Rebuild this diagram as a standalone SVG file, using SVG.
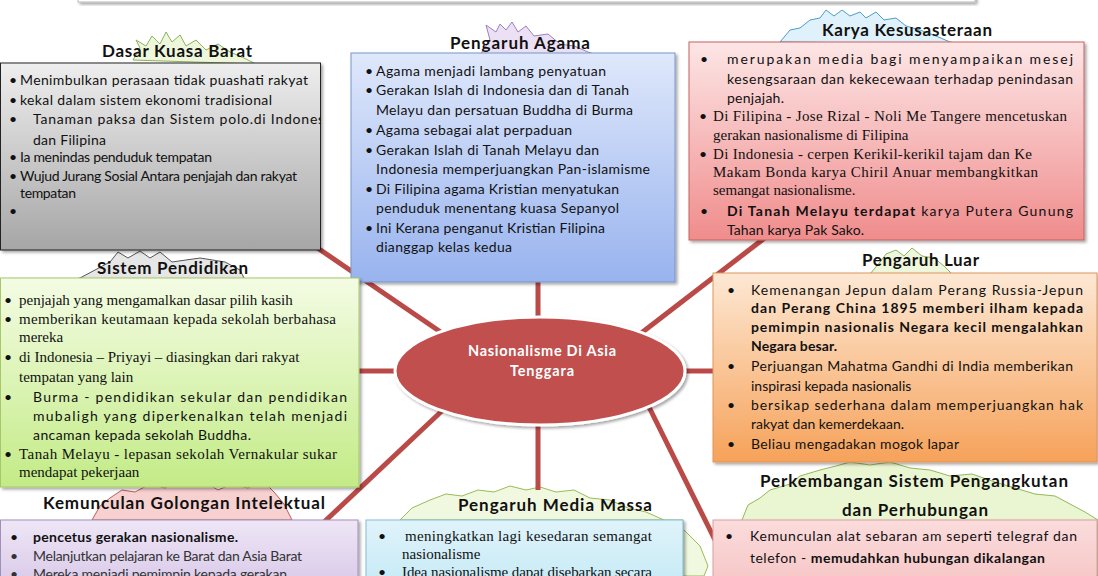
<svg xmlns="http://www.w3.org/2000/svg" width="1098" height="576" viewBox="0 0 1098 576">
<defs>
<style>
.t{font-family:Lato,"Open Sans",sans-serif;font-weight:bold;font-size:17px;fill:#111}
.s{font-family:Lato,"Open Sans",sans-serif;font-size:14px;fill:#111}
.r{font-family:"Liberation Serif","Times New Roman",serif;font-size:15px;fill:#111}
.bu{font-family:Lato,"Open Sans",sans-serif;font-size:14px;fill:#111}
.b{font-weight:bold}
.con{stroke:#b94a48;stroke-width:5;fill:none;stroke-linecap:butt}
.map{stroke-width:1;stroke-linejoin:round}
</style>
<filter id="sh" x="-5%" y="-5%" width="115%" height="120%"><feDropShadow dx="2" dy="2" stdDeviation="1.5" flood-color="#000" flood-opacity="0.35"/></filter>
<linearGradient id="g1" x1="0" y1="0" x2="0" y2="1"><stop offset="0" stop-color="#eeeeee"/><stop offset="1" stop-color="#a6a6a6"/></linearGradient>
<linearGradient id="g2" x1="0" y1="0" x2="0" y2="1"><stop offset="0" stop-color="#dfe8fb"/><stop offset="1" stop-color="#98b3ee"/></linearGradient>
<linearGradient id="g3" x1="0" y1="0" x2="0" y2="1"><stop offset="0" stop-color="#fde6e6"/><stop offset="1" stop-color="#f08c8c"/></linearGradient>
<linearGradient id="g4" x1="0" y1="0" x2="0" y2="1"><stop offset="0" stop-color="#f4fce4"/><stop offset="1" stop-color="#c3eb86"/></linearGradient>
<linearGradient id="g5" x1="0" y1="0" x2="0" y2="1"><stop offset="0" stop-color="#fde8d4"/><stop offset="1" stop-color="#f6a25a"/></linearGradient>
<linearGradient id="g6" x1="0" y1="0" x2="0" y2="1"><stop offset="0" stop-color="#eee6f6"/><stop offset="1" stop-color="#d8c8e8"/></linearGradient>
<linearGradient id="g8" x1="0" y1="0" x2="0" y2="1"><stop offset="0" stop-color="#e0f3fa"/><stop offset="1" stop-color="#c4eaf6"/></linearGradient>
<linearGradient id="g9" x1="0" y1="0" x2="0" y2="1"><stop offset="0" stop-color="#fbdcdc"/><stop offset="1" stop-color="#f6c4c4"/></linearGradient>
<clipPath id="cp1"><rect x="0" y="63" width="321" height="187"/></clipPath>
</defs>
<rect x="0" y="0" width="1098" height="576" fill="#ffffff"/>

<g id="top-box"><rect x="78" y="-20" width="897" height="22" fill="#ffffff" stroke="#bbbbbb" filter="url(#sh)"/></g>

<g id="maps">
<polygon class="map" fill="#eef7dc" stroke="#8db25a" points="133,60 140,48 136,40 146,46 152,36 160,44 166,32 172,42 180,35 186,46 196,40 206,50 218,44 230,52 244,58 256,64"/>
<polygon class="map" fill="#e6e6e6" stroke="#555555" points="62,282 80,278 95,270 110,262 118,252 128,258 140,251 150,258 160,252 172,262 200,258 225,262 240,270 246,282"/>
<polygon class="map" fill="#ece0f5" stroke="#9b7fc0" points="480,55 490,40 486,25 496,32 500,24 506,30 512,22 518,32 526,26 534,36 548,34 560,44 574,46 588,52 600,56"/>
<polygon class="map" fill="#dff1fa" stroke="#4d9dc8" points="780,42 790,30 800,28 810,20 820,18 826,10 834,16 842,10 850,16 860,12 866,18 876,12 884,20 896,18 906,26 920,30 936,36 950,42 962,44"/>
<polygon class="map" fill="#eef7dc" stroke="#8db25a" points="870,274 880,262 886,254 896,250 904,256 912,248 922,256 934,258 944,266 952,274"/>
<polygon class="map" fill="#eaf5d2" stroke="#94b85a" points="722,545 730,528 742,520 748,505 760,498 770,490 790,484 800,476 820,470 836,466 850,462 870,465 890,462 910,468 930,470 950,476 972,474 995,482 1015,488 1035,494 1055,496 1070,504 1085,512 1098,520 1098,576 722,576"/>
<polygon class="map" fill="#f7d0d0" stroke="#c45a5a" points="92,520 100,506 110,498 122,490 135,492 150,484 165,488 178,480 192,486 205,482 218,490 232,484 248,488 262,480 274,492 284,504 292,520"/>
<polygon class="map" fill="#f1f8e0" stroke="#9bbb55" points="400,520 412,508 430,500 446,494 462,496 478,490 494,492 510,486 526,490 540,487 556,492 574,490 590,498 610,500 628,508 646,512 664,520 684,530 700,546 708,566 704,576 683,576 683,520"/>
</g>

<g id="connectors">
<line class="con" x1="300" y1="236" x2="445" y2="335"/>
<line class="con" x1="538" y1="278" x2="538" y2="322"/>
<line class="con" x1="775" y1="230" x2="640" y2="334"/>
<line class="con" x1="355" y1="371" x2="402" y2="371"/>
<line class="con" x1="680" y1="371" x2="716" y2="371"/>
<line class="con" x1="445" y1="408" x2="322" y2="524"/>
<line class="con" x1="538" y1="420" x2="538" y2="490"/>
<line class="con" x1="648" y1="405" x2="716" y2="542"/>
</g>

<g id="center">
<ellipse cx="540" cy="371" rx="145" ry="54" fill="#c0504d" stroke="#ffffff" stroke-width="3" filter="url(#sh)"/>
<text x="542" y="356" text-anchor="middle" font-family="Lato,'Open Sans',sans-serif" font-weight="bold" font-size="14.5" fill="#ffffff" textLength="148">Nasionalisme Di Asia</text>
<text x="542" y="376" text-anchor="middle" font-family="Lato,'Open Sans',sans-serif" font-weight="bold" font-size="14.5" fill="#ffffff" textLength="64">Tenggara</text>
</g>

<g id="dasar-kuasa-barat">
<text class="t" x="102" y="57" textLength="150">Dasar Kuasa Barat</text>
<rect x="0.5" y="63" width="320" height="187" fill="url(#g1)" stroke="#222222" filter="url(#sh)"/>
<g clip-path="url(#cp1)">
<g class="s" font-size="13.5">
<text x="9" y="85">•</text><text x="20" y="85" textLength="288">Menimbulkan perasaan tidak puashati rakyat</text>
<text x="9" y="105">•</text><text x="20" y="105" textLength="252">kekal dalam sistem ekonomi tradisional</text>
</g>
<text class="s" x="9" y="124">•</text>
<text class="s" font-size="16" x="33" y="124" textLength="303">Tanaman paksa dan Sistem polo.di Indonesia</text>
<text class="s" font-size="16" x="33" y="145" textLength="73">dan Filipina</text>
<g class="s" font-size="12.5">
<text x="9" y="162">•</text><text x="20" y="162" textLength="192">Ia menindas penduduk tempatan</text>
<text x="9" y="181">•</text><text x="20" y="181" textLength="277">Wujud Jurang Sosial Antara penjajah dan rakyat</text>
<text x="20" y="198" textLength="56">tempatan</text>
<text x="9" y="216">•</text>
</g>
</g>
</g>

<g id="pengaruh-agama">
<text class="t" x="450" y="49" textLength="140">Pengaruh Agama</text>
<rect x="351" y="53" width="324" height="229" fill="url(#g2)" stroke="#7a95c8" filter="url(#sh)"/>
<g class="s" font-size="14.5">
<text x="365" y="76">•</text><text x="376" y="76" textLength="230">Agama menjadi lambang penyatuan</text>
<text x="365" y="95">•</text><text x="376" y="95" textLength="253">Gerakan Islah di Indonesia dan di Tanah</text>
<text x="376" y="115" textLength="257">Melayu dan persatuan Buddha di Burma</text>
<text x="365" y="135">•</text><text x="376" y="135" textLength="196">Agama sebagai alat perpaduan</text>
<text x="365" y="155">•</text><text x="376" y="155" textLength="223">Gerakan Islah di Tanah Melayu dan</text>
<text x="376" y="174" textLength="274">Indonesia memperjuangkan Pan-islamisme</text>
<text x="365" y="194">•</text><text x="376" y="194" textLength="243">Di Filipina agama Kristian menyatukan</text>
<text x="376" y="213" textLength="243">penduduk menentang kuasa Sepanyol</text>
<text x="365" y="233">•</text><text x="376" y="233" textLength="229">Ini Kerana penganut Kristian Filipina</text>
<text x="376" y="252" textLength="136">dianggap kelas kedua</text>
</g>
</g>

<g id="karya-kesusasteraan">
<text class="t" x="822" y="36" textLength="170">Karya Kesusasteraan</text>
<rect x="689" y="42" width="395" height="198" fill="url(#g3)" stroke="#c86060" filter="url(#sh)"/>
<g class="s" font-size="14.5">
<text x="700" y="64">•</text><text x="727" y="64" textLength="346">merupakan media bagi menyampaikan mesej</text>
<text x="727" y="84" textLength="346">kesengsaraan dan kekecewaan terhadap penindasan</text>
<text x="727" y="103" textLength="57">penjajah.</text>
</g>
<text class="bu" x="699" y="121">•</text>
<text class="bu" x="699" y="159">•</text>
<g class="r" font-size="16">
<text x="713" y="121" textLength="354">Di Filipina - Jose Rizal - Noli Me Tangere mencetuskan</text>
<text x="713" y="140">gerakan nasionalisme di Filipina</text>
<text x="713" y="159" textLength="319">Di Indonesia - cerpen Kerikil-kerikil tajam dan Ke</text>
<text x="713" y="177" textLength="325">Makam Bonda karya Chiril Anuar  membangkitkan</text>
<text x="713" y="195">semangat nasionalisme.</text>
</g>
<g class="s" font-size="14.5">
<text x="700" y="216">•</text><text x="727" y="216" textLength="346"><tspan class="b">Di Tanah Melayu terdapat</tspan> karya Putera Gunung</text>
<text x="727" y="235" textLength="137">Tahan karya Pak Sako.</text>
</g>
</g>

<g id="sistem-pendidikan">
<text class="t" x="97" y="274" textLength="151">Sistem Pendidikan</text>
<rect x="0.5" y="278" width="358.5" height="209" fill="url(#g4)" stroke="#a6c76a" filter="url(#sh)"/>
<g class="bu">
<text x="4" y="305">•</text><text x="4" y="324">•</text><text x="4" y="362">•</text><text x="4" y="402">•</text><text x="4" y="459">•</text>
</g>
<g class="r" font-size="15.5">
<text x="19" y="305">penjajah yang mengamalkan dasar pilih kasih</text>
<text x="19" y="324" textLength="317">memberikan keutamaan kepada sekolah berbahasa</text>
<text x="19" y="342">mereka</text>
<text x="19" y="362">di Indonesia – Priyayi – diasingkan dari rakyat</text>
<text x="19" y="382">tempatan yang lain</text>
</g>
<g class="s" font-size="15">
<text x="33" y="402" textLength="314">Burma - pendidikan sekular dan pendidikan</text>
<text x="33" y="421" textLength="314">mubaligh yang diperkenalkan  telah menjadi</text>
<text x="33" y="440" textLength="218">ancaman kepada sekolah Buddha.</text>
</g>
<g class="r" font-size="15.5">
<text x="19" y="459" textLength="318">Tanah Melayu - lepasan sekolah Vernakular sukar</text>
<text x="19" y="477">mendapat pekerjaan</text>
</g>
</g>

<g id="pengaruh-luar">
<text class="t" x="862" y="266" textLength="117">Pengaruh Luar</text>
<rect x="713" y="273" width="384" height="189" fill="url(#g5)" stroke="#e0955a" filter="url(#sh)"/>
<g class="s" font-size="14.5">
<text x="727" y="295">•</text><text x="751" y="295" textLength="332">Kemenangan Jepun dalam Perang Russia-Jepun</text>
<text class="b" x="751" y="313" textLength="332">dan Perang China 1895 memberi ilham kepada</text>
<text class="b" x="751" y="332" textLength="332">pemimpin nasionalis Negara kecil mengalahkan</text>
<text class="b" x="751" y="351" textLength="86">Negara besar.</text>
<text x="727" y="371">•</text><text x="751" y="371" textLength="322">Perjuangan Mahatma Gandhi di India memberikan</text>
<text x="751" y="391">inspirasi kepada nasionalis</text>
<text x="727" y="410">•</text><text x="751" y="410" textLength="332">bersikap sederhana dalam memperjuangkan  hak</text>
<text x="751" y="429">rakyat dan kemerdekaan.</text>
<text x="727" y="449">•</text><text x="751" y="449" textLength="208">Beliau mengadakan mogok lapar</text>
</g>
</g>

<g id="kemunculan-golongan-intelektual">
<text class="t" x="43" y="509" textLength="282">Kemunculan Golongan Intelektual</text>
<rect x="0.5" y="520" width="357.5" height="70" fill="url(#g6)" stroke="#a090b8" filter="url(#sh)"/>
<g class="s" font-size="13.5">
<text x="10" y="542">•</text><text class="b" x="33" y="542" textLength="205">pencetus gerakan nasionalisme.</text>
<text x="10" y="561" fill="#333">•</text><text x="33" y="561" fill="#333" textLength="269">Melanjutkan pelajaran ke Barat dan Asia Barat</text>
<text x="10" y="579" fill="#333">•</text><text x="33" y="579" fill="#333" textLength="254">Mereka menjadi pemimpin kepada gerakan</text>
</g>
</g>

<g id="pengaruh-media-massa">
<text class="t" x="458" y="511" textLength="194">Pengaruh Media Massa</text>
<rect x="366" y="520" width="317" height="70" fill="url(#g8)" stroke="#85bdd3" filter="url(#sh)"/>
<text class="bu" x="378" y="541">•</text>
<text class="bu" x="378" y="577">•</text>
<g class="r" font-size="15">
<text x="405" y="541" textLength="247">meningkatkan lagi kesedaran semangat</text>
<text x="402" y="559">nasionalisme</text>
<text x="402" y="577" textLength="250">Idea nasionalisme dapat disebarkan secara</text>
</g>
</g>

<g id="perkembangan-sistem-pengangkutan">
<text class="t" x="760" y="487" textLength="308">Perkembangan Sistem Pengangkutan</text>
<text class="t" x="842" y="516" textLength="146">dan Perhubungan</text>
<rect x="713" y="520" width="384" height="70" fill="url(#g9)" stroke="#d9a0a0" filter="url(#sh)"/>
<g class="s" font-size="14.5">
<text x="725" y="541">•</text><text x="750" y="541" textLength="327">Kemunculan alat sebaran am seperti  telegraf dan</text>
<text x="750" y="563" textLength="295">telefon - <tspan class="b">memudahkan hubungan dikalangan</tspan></text>
</g>
</g>
</svg>
